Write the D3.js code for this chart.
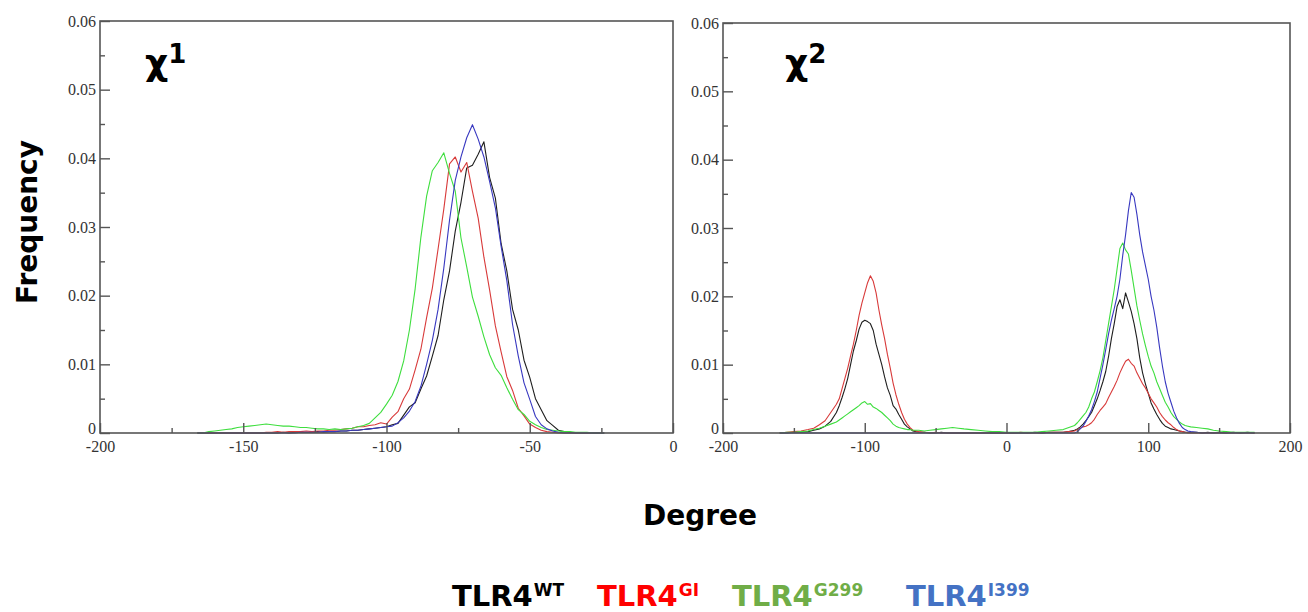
<!DOCTYPE html>
<html><head><meta charset="utf-8">
<script src="https://cdn.jsdelivr.net/npm/d3@7"></script>
<style>body{margin:0;background:#fff}svg{display:block}</style>
</head><body><svg id="c" width="1308" height="612"></svg>
<script>
// ---------- DATA ----------
const seriesNames = ["TLR4WT", "TLR4GI", "TLR4G299", "TLR4I399"];
const legendBase = ["TLR4", "TLR4", "TLR4", "TLR4"];
const legendSup = ["WT", "GI", "G299", "I399"];

// chi1 panel (degrees)
const chi1X = [-166,-164,-162,-160,-158,-156,-154,-152,-150,-148,
  -146,-144,-142,-140,-138,-136,-134,-132,-130,-128,
  -126,-124,-122,-120,-118,-116,-114,-112,-110,-108,
  -106,-104,-102,-100,-98,-96,-94,-92,-90,-88,
  -86,-84,-82,-80,-78,-76,-74,-72,-70,-68,
  -66,-64,-62,-60,-58,-56,-54,-52,-50,-48,
  -46,-44,-42,-40,-38,-36,-34,-32,-30,-28,
  -26,-24];
const chi1WT = [0,0,0,0,0,0,0,0,0,0,
  0,0,0,0,0,.0001,0,.0001,.0001,.0001,
  .0001,.0002,.0001,.0002,.0002,.0003,.0003,.0004,.0004,.0005,
  .0006,.0007,.0008,.0009,.0012,.0014,.0026,.0038,.0044,.0064,
  .0083,.0112,.0142,.0194,.0236,.0294,.0336,.0386,.0390,.0406,
  .0424,.0372,.0342,.0276,.0236,.0180,.0150,.0106,.0081,.0050,
  .0034,.0018,.0011,.0004,.0002,.0001,0,0,0,0,
  0,0];
const chi1GI = [0,0,0,0,0,0,0,0,0,0,
  0,0,.0001,.0001,.0002,.0001,.0002,.0002,.0002,.0003,
  .0002,.0003,.0003,.0004,.0004,.0005,.0006,.0007,.0009,.0009,
  .0011,.0012,.0015,.0013,.0023,.0031,.0050,.0064,.0092,.0122,
  .0168,.0211,.0268,.0326,.0392,.0402,.0380,.0394,.0352,.0313,
  .0256,.0208,.0156,.0118,.0082,.0062,.0036,.0025,.0013,.0008,
  .0004,.0002,.0001,0,0,0,0,0,0,0,
  0,0];
const chi1G299 = [0,0,.0002,.0003,.0004,.0005,.0006,.0008,.0009,.0010,
  .0011,.0012,.0013,.0012,.0011,.0010,.0010,.0009,.0008,.0008,
  .0007,.0006,.0006,.0005,.0006,.0005,.0006,.0007,.0009,.0011,
  .0014,.0022,.0030,.0042,.0055,.0075,.0105,.0150,.0210,.0285,
  .0345,.0382,.0394,.0408,.0378,.0352,.0284,.0242,.0198,.0170,
  .0140,.0114,.0095,.0084,.0066,.0049,.0034,.0027,.0017,.0012,
  .0008,.0005,.0004,.0003,.0002,.0002,.0001,.0001,.0001,0,
  0,0];
const chi1I399 = [0,0,0,0,0,0,0,0,0,0,
  0,0,0,0,0,0,0,0,.0001,.0001,
  .0001,.0001,.0002,.0002,.0002,.0003,.0003,.0004,.0004,.0005,
  .0006,.0007,.0008,.0009,.0010,.0015,.0022,.0032,.0046,.0068,
  .0100,.0135,.0180,.0240,.0310,.0368,.0402,.0430,.0449,.0428,
  .0402,.0366,.0328,.0272,.0222,.0158,.0112,.0073,.0049,.0024,
  .0012,.0006,.0003,.0001,0,0,0,0,0,0,
  0,0];

// chi2 panel (degrees)
const chi2X = [-160,-155,-150,-145,-140,
  -136,-132,-128,-124,
  -120,-118,-116,-114,-112,-110,-108,-106,-104,-102,-100,-98,-96,-94,-92,-90,-88,-86,-84,-82,-80,-78,-76,-74,-72,-70,-68,-66,
  -62,-58,-54,-50,-46,-42,-38,-34,
  -30,-25,-20,-15,-10,-5,0,5,10,15,20,25,30,35,40,
  44,48,
  50,52,54,56,58,60,62,64,66,68,70,72,74,76,78,80,82,84,86,88,90,92,94,96,98,100,102,104,106,108,110,112,114,116,118,120,122,124,126,128,130,
  134,138,142,146,150,
  155,160,165,170,175];
const chi2WT = [0,0,.0001,.0001,.0002,
  .0004,.0006,.0010,.0017,
  .0030,.0040,.0052,.0065,.0080,.0100,.0120,.0135,.0152,.0162,.0165,.0163,.0160,.0150,.0130,.0115,.0100,.0082,.0066,.0055,.0040,.0035,.0027,.0020,.0013,.0009,.0006,.0003,
  .0001,.0001,0,0,.0001,0,0,0,
  0,0,0,0,0,0,0,0,0,0,.0001,0,.0001,.0001,.0001,
  .0002,.0004,
  .0006,.0009,.0013,.0018,.0024,.0030,.0040,.0050,.0062,.0075,.0090,.0112,.0138,.0160,.0185,.0195,.0182,.0205,.0192,.0178,.0160,.0138,.0110,.0088,.0072,.0058,.0044,.0035,.0027,.0020,.0014,.0010,.0008,.0006,.0005,.0004,.0003,.0002,.0001,.0001,.0001,
  .0001,0,.0001,0,.0001,
  0,.0001,0,.0001,0];
const chi2GI = [0,.0001,.0002,.0003,.0005,
  .0007,.0012,.0018,.0030,
  .0042,.0050,.0065,.0080,.0095,.0113,.0130,.0150,.0172,.0190,.0205,.0220,.0230,.0222,.0205,.0180,.0158,.0138,.0115,.0095,.0073,.0056,.0042,.0030,.0020,.0013,.0008,.0004,
  .0002,.0001,0,.0001,0,0,0,0,
  0,0,0,0,0,0,0,0,.0001,0,0,0,.0001,.0001,.0001,
  .0002,.0003,
  .0005,.0007,.0009,.0010,.0012,.0015,.0020,.0027,.0033,.0038,.0043,.0052,.0060,.0068,.0077,.0088,.0097,.0105,.0108,.0102,.0098,.0088,.0080,.0072,.0066,.0058,.0050,.0044,.0038,.0030,.0024,.0019,.0015,.0012,.0008,.0005,.0003,.0002,.0001,0,0,
  0,0,0,0,0,
  0,0,0,0,0];
const chi2G299 = [0,.0001,.0001,.0002,.0003,
  .0005,.0007,.0010,.0013,
  .0016,.0019,.0022,.0025,.0028,.0031,.0034,.0037,.0040,.0044,.0046,.0042,.0043,.0038,.0036,.0033,.0030,.0026,.0022,.0018,.0013,.0010,.0008,.0007,.0006,.0005,.0005,.0004,
  .0004,.0003,.0004,.0005,.0006,.0007,.0008,.0007,
  .0006,.0005,.0004,.0003,.0002,.0002,.0001,.0001,.0001,.0001,.0001,.0002,.0003,.0004,.0005,
  .0008,.0011,
  .0015,.0020,.0025,.0030,.0038,.0050,.0060,.0075,.0091,.0110,.0135,.0160,.0185,.0210,.0240,.0270,.0278,.0268,.0262,.0238,.0212,.0186,.0165,.0145,.0128,.0112,.0098,.0088,.0075,.0065,.0055,.0045,.0038,.0030,.0024,.0020,.0016,.0013,.0011,.0010,.0009,
  .0008,.0007,.0006,.0004,.0003,
  .0002,.0001,.0001,.0001,.0001];
const chi2I399 = [0,0,0,0,0,
  0,0,0,0,
  0,0,0,0,0,0,0,0,0,0,0,0,0,0,0,0,0,0,0,0,0,0,0,0,0,0,0,0,
  0,0,0,0,0,0,0,0,
  0,0,0,0,0,0,0,0,0,0,0,0,0,0,0,
  0,0,
  .0002,.0006,.0010,.0017,.0025,.0034,.0046,.0060,.0080,.0100,.0122,.0145,.0165,.0182,.0200,.0225,.0260,.0290,.0325,.0352,.0345,.0320,.0290,.0265,.0245,.0225,.0200,.0180,.0155,.0125,.0098,.0075,.0058,.0045,.0032,.0022,.0014,.0008,.0005,.0003,.0002,
  .0001,0,0,0,0,
  0,0,0,0,0];

const yTicks = [0, 0.01, 0.02, 0.03, 0.04, 0.05, 0.06];
const yMinor = [0.005, 0.015, 0.025, 0.035, 0.045, 0.055];
const xTicks1 = [-200, -150, -100, -50, 0];
const xMinor1 = [-175, -125, -75, -25];
const xTicks2 = [-200, -100, 0, 100, 200];
const xMinor2 = [-150, -50, 50, 150];
const panelTitles = ["1", "2"];

// ---------- DRAW ----------
const svg = d3.select("#c");
const lineColors = ["#1e1e1e", "#d83a3a", "#3ede3e", "#3838c0"];
const legendColors = ["#000000", "#ff0000", "#70ad47", "#4472c4"];
const tickFont = "'Liberation Serif','Times New Roman',serif";
const boldFont = "'DejaVu Sans',sans-serif";

const panels = [
  {left:100, right:673, top:21, bottom:433, xDom:[-200,0], xt:xTicks1, xm:xMinor1, X:chi1X,
   ys:[chi1WT, chi1GI, chi1G299, chi1I399], title:panelTitles[0], tx:145},
  {left:723, right:1290, top:23, bottom:433, xDom:[-200,200], xt:xTicks2, xm:xMinor2, X:chi2X,
   ys:[chi2WT, chi2GI, chi2G299, chi2I399], title:panelTitles[1], tx:785}
];

panels.forEach(p => {
  const x = d3.scaleLinear().domain(p.xDom).range([p.left, p.right]);
  const y = d3.scaleLinear().domain([0, 0.06]).range([p.bottom, p.top]);
  const g = svg.append("g");
  p.ys.forEach((vals, i) => {
    const line = d3.line().x((d, j) => x(p.X[j])).y(d => y(d));
    g.append("path").datum(vals).attr("d", line)
      .attr("fill", "none").attr("stroke", lineColors[i]).attr("stroke-width", 1.1)
      .attr("stroke-linejoin", "round");
  });
  g.append("rect").attr("x", p.left).attr("y", p.top)
    .attr("width", p.right - p.left).attr("height", p.bottom - p.top)
    .attr("fill", "none").attr("stroke", "#555").attr("stroke-width", 1.6);
  const xa = g.append("g").attr("transform", `translate(0,${p.bottom})`)
    .call(d3.axisBottom(x).tickValues(p.xt).tickSizeInner(-10).tickSizeOuter(0).tickPadding(8)
      .tickFormat(d => String(d)));
  const xm = g.append("g").attr("transform", `translate(0,${p.bottom})`)
    .call(d3.axisBottom(x).tickValues(p.xm).tickSizeInner(-5).tickSizeOuter(0).tickFormat(""));
  const ya = g.append("g").attr("transform", `translate(${p.left},0)`)
    .call(d3.axisLeft(y).tickValues(yTicks).tickSizeInner(-10).tickSizeOuter(0).tickPadding(4)
      .tickFormat(d => d === 0 ? "0" : d.toFixed(2)));
  const ym = g.append("g").attr("transform", `translate(${p.left},0)`)
    .call(d3.axisLeft(y).tickValues(yMinor).tickSizeInner(-5).tickSizeOuter(0).tickFormat(""));
  [xa, xm, ya, ym].forEach(a => {
    a.select(".domain").remove();
    a.selectAll("line").attr("stroke", "#555").attr("stroke-width", 1.4);
    a.selectAll("text").attr("font-family", tickFont).attr("font-size", 16).attr("fill", "#333");
  });
  // lift the "0" y label slightly so it does not touch the x label
  ya.selectAll(".tick").filter(d => d === 0).select("text").attr("dy", "0.05em");
  const t = g.append("text").attr("x", p.tx).attr("y", 75)
    .attr("font-family", boldFont).attr("font-weight", "bold").attr("fill", "#000");
  t.append("tspan").attr("font-size", 36).text("χ");
  t.append("tspan").attr("font-size", 26).attr("dy", -12).text(p.title);
});

svg.append("text").attr("x", 700).attr("y", 525).attr("text-anchor", "middle")
  .attr("font-family", boldFont).attr("font-weight", "bold").attr("font-size", 28).text("Degree");
svg.append("text").attr("transform", "translate(37,222) rotate(-90)").attr("text-anchor", "middle")
  .attr("font-family", boldFont).attr("font-weight", "bold").attr("font-size", 28).text("Frequency");

const legX = [452, 597, 732, 906];
legendBase.forEach((b, i) => {
  const t = svg.append("text").attr("x", legX[i]).attr("y", 606)
    .attr("font-family", boldFont).attr("font-weight", "bold").attr("fill", legendColors[i]);
  t.append("tspan").attr("font-size", 29).text(b);
  t.append("tspan").attr("font-size", 17).attr("dy", -10).attr("dx", 1).text(legendSup[i]);
});
</script>
</body></html>
